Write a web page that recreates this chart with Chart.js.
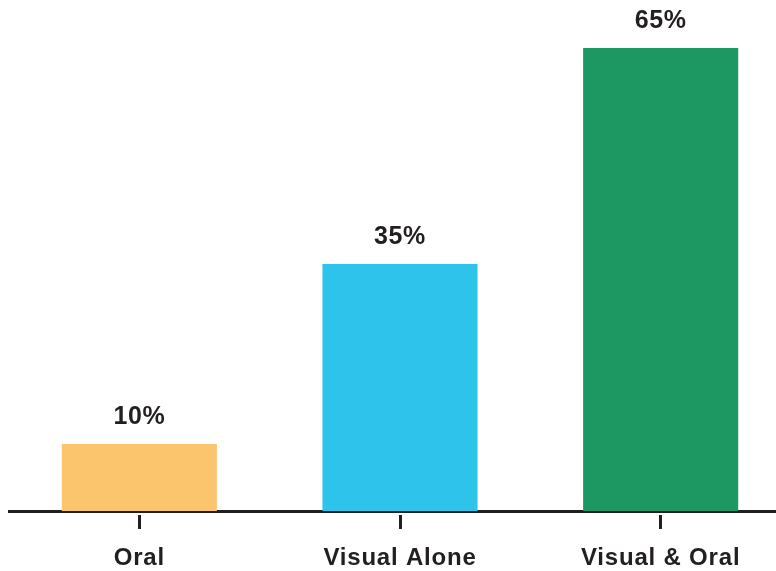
<!DOCTYPE html>
<html>
<head>
<meta charset="utf-8">
<script src="https://cdn.jsdelivr.net/npm/chart.js@4"></script>
<style>
  html, body { margin: 0; padding: 0; background: #fff; overflow: hidden; }
  #wrap { position: absolute; left: 0; top: 0; width: 791px; height: 571px; }
</style>
</head>
<body>
<div id="wrap"><canvas id="c"></canvas></div>
<script>
const categories = ["Oral", "Visual Alone", "Visual & Oral"];
const values = [10, 35, 65];
const barColors = ["#FBC56D", "#2EC3EB", "#1D9862"];

const TEXT = "#231f20";
const FONT = "'Liberation Sans', Arial, Helvetica, sans-serif";

const spacingPlugin = {
  id: 'spacing',
  beforeDraw(chart) { chart.ctx.letterSpacing = '0.8px'; }
};

const valueLabels = {
  id: 'valueLabels',
  afterDatasetsDraw(chart) {
    const ctx = chart.ctx;
    const meta = chart.getDatasetMeta(0);
    ctx.save();
    ctx.letterSpacing = '0.6px';
    ctx.font = "bold 25px " + FONT;
    ctx.fillStyle = TEXT;
    ctx.textAlign = 'center';
    ctx.textBaseline = 'alphabetic';
    meta.data.forEach((bar, i) => {
      ctx.fillText(values[i] + '%', bar.x, bar.y - 20);
    });
    ctx.restore();
  }
};

new Chart(document.getElementById('c'), {
  type: 'bar',
  data: {
    labels: categories,
    datasets: [{
      data: values,
      backgroundColor: barColors,
      borderWidth: 0,
      barPercentage: 0.595,
      categoryPercentage: 1
    }]
  },
  options: {
    responsive: true,
    maintainAspectRatio: false,
    animation: false,
    layout: { padding: { left: 9, right: 0, top: 0, bottom: 0 } },
    plugins: { legend: { display: false }, tooltip: { enabled: false } },
    scales: {
      x: {
        z: 1,
        offset: true,
        afterFit(scale) { scale.height = 60; },
        grid: {
          offset: false,
          drawOnChartArea: false,
          drawTicks: true,
          tickLength: 18,
          tickWidth: 3,
          tickColor: TEXT,
          tickBorderDash: [0, 2, 20, 100]
        },
        border: { display: true, width: 3, color: TEXT },
        ticks: {
          padding: 15,
          color: TEXT,
          font: { family: FONT, size: 24, weight: 'bold' },
          maxRotation: 0
        }
      },
      y: {
        display: false,
        min: 0.694,
        max: 71.67
      }
    }
  },
  plugins: [spacingPlugin, valueLabels]
});
</script>
</body>
</html>
